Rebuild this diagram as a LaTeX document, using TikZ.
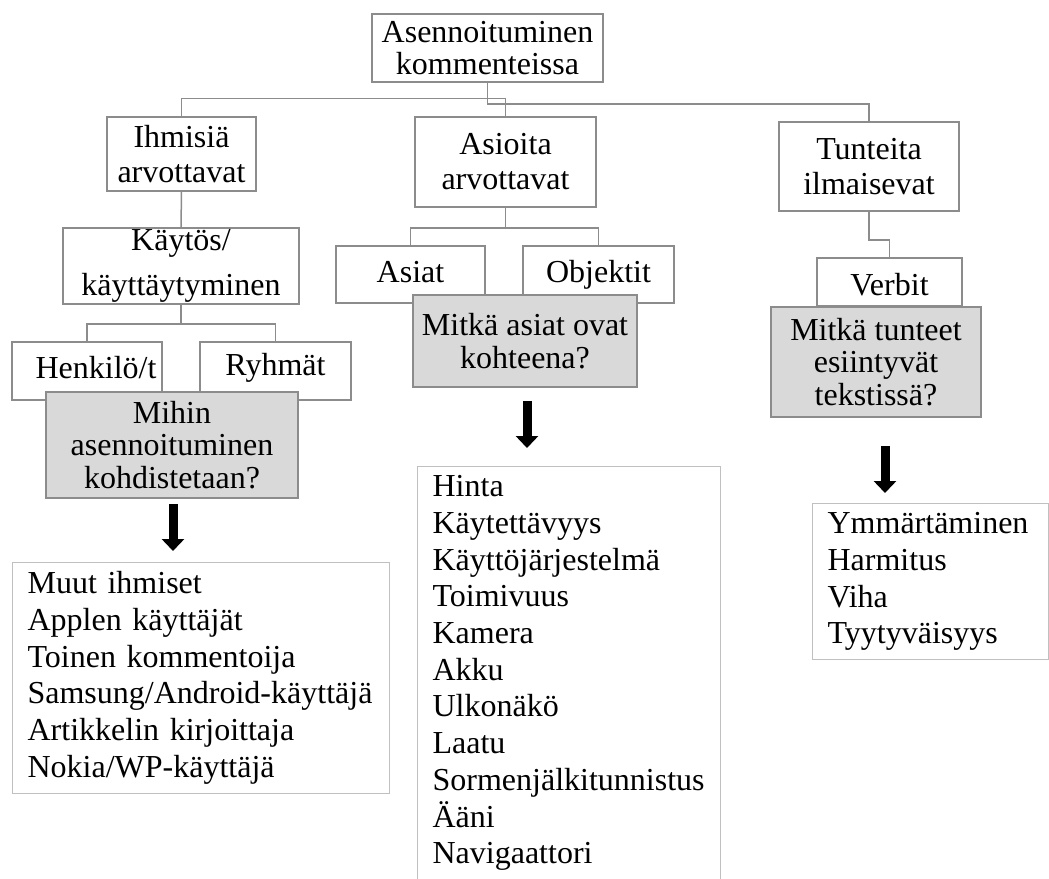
\documentclass[tikz,border=0pt]{standalone}
\usepackage{fontspec}
\setmainfont{Liberation Serif}
\usetikzlibrary{arrows.meta}
\definecolor{boxline}{HTML}{8C8C8C}
\definecolor{listline}{HTML}{C0C0C0}
\definecolor{qfill}{HTML}{D9D9D9}
\tikzset{
  tbox/.style={draw=boxline, line width=1.5pt, fill=white, rectangle,
    inner sep=0pt, align=center, font=\fontsize{32}{35}\selectfont},
  oneline/.style={text height=22pt, text depth=7pt},
  qbox/.style={tbox, fill=qfill, font=\fontsize{32}{32.5}\selectfont},
  lbox/.style={draw=listline, line width=1.2pt, rectangle, anchor=north west,
    align=left, inner xsep=15pt, inner ysep=9pt,
    font=\fontsize{32}{36.7}\selectfont},
  link/.style={draw=boxline, line width=1.5pt},
  bigarrow/.style={line width=9pt, -{Triangle[width=22pt,length=12pt]}}
}
\begin{document}
\begin{tikzpicture}[x=1pt,y=-1pt]
\clip (0,0) rectangle (1049,878);
\fill[white] (0,0) rectangle (1049,878);

% top level
\node[tbox, minimum width=231pt, minimum height=68pt,
      font=\fontsize{32}{32}\selectfont] (root) at (487.5,48)
      {Asennoituminen\\kommenteissa};

% second level
\node[tbox, minimum width=149pt, minimum height=74pt] (ihm) at (181.5,154)
      {Ihmisiä\\arvottavat};
\node[tbox, minimum width=181pt, minimum height=90pt] (asi) at (505.5,162)
      {Asioita\\arvottavat};
\node[tbox, minimum width=180pt, minimum height=89pt] (tun) at (869,166.5)
      {Tunteita\\ilmaisevat};

% third level
\node[tbox, minimum width=236pt, minimum height=76pt,
      font=\fontsize{32}{45}\selectfont] (kay) at (181,266)
      {Käytös/\\käyttäytyminen};
\node[tbox, oneline, minimum width=149pt, minimum height=57pt] (asiat) at (410.5,274.5) {Asiat};
\node[tbox, oneline, minimum width=151pt, minimum height=57pt] (obj) at (598.5,274.5) {Objektit};
\node[tbox, oneline, text height=34pt, minimum width=145pt, minimum height=48pt] (verb) at (889.5,282) {Verbit};

% fourth level
\node[tbox, oneline, minimum width=150pt, minimum height=58pt] (hen) at (87,371)
      {\hspace*{18pt}Henkilö/t};
\node[tbox, oneline, text height=16pt, minimum width=151pt, minimum height=58pt] (ryh) at (275.5,371) {Ryhmät};

% question boxes
\node[qbox, minimum width=252pt, minimum height=106pt] (qmi) at (172,445)
      {Mihin\\asennoituminen\\kohdistetaan?};
\node[qbox, font=\fontsize{32}{33}\selectfont, minimum width=224pt,
      minimum height=92pt] (qas) at (525,341)
      {Mitkä asiat ovat\\kohteena?};
\node[qbox, minimum width=210pt, minimum height=110pt] (qtu) at (876,362)
      {Mitkä tunteet\\esiintyvät\\tekstissä?};

% result lists
\node[lbox, text width=347pt, minimum height=230pt] (lp) at (12,562)
      {Muut ihmiset\\Applen käyttäjät\\Toinen kommentoija\\Samsung/Android-käyttäjä\\Artikkelin kirjoittaja\\Nokia/WP-käyttäjä};
\node[lbox, text width=273pt] (lt) at (417,466)
      {Hinta\\Käytettävyys\\Käyttöjärjestelmä\\Toimivuus\\Kamera\\Akku\\Ulkonäkö\\Laatu\\Sormenjälkitunnistus\\Ääni\\Navigaattori};
\node[lbox, text width=206pt, minimum height=153pt] (le) at (812,503)
      {Ymmärtäminen\\Harmitus\\Viha\\Tyytyväisyys};

% tree connectors
\draw[link] (ihm.north) -- ++(0,-18) -| (asi.north);
\draw[link] (root.south) -- ++(0,21) -| (tun.north);
\draw[link] (ihm.south) -- (kay.north);
\draw[link] (kay.south) -- ++(0,19) coordinate (kb);
\draw[link] (hen.north) |- (kb) -| (ryh.north);
\draw[link] (asi.south) -- ++(0,20) coordinate (ab);
\draw[link] (asiat.north) |- (ab) -| (obj.north);
\draw[link] (tun.south) -- ++(0,28) -| (verb.north);

% block arrows to the lists
\draw[bigarrow, shorten <=5pt, shorten >=11pt]
  ([xshift=1pt]qmi.south) -- ([xshift=1pt]qmi.south |- lp.north);
\draw[bigarrow, shorten <=13pt, shorten >=18pt]
  ([xshift=2pt]qas.south) -- ([xshift=2pt]qas.south |- lt.north);
\draw[bigarrow, shorten <=28pt, shorten >=10pt]
  ([xshift=9pt]qtu.south) -- ([xshift=9pt]qtu.south |- le.north);
\end{tikzpicture}
\end{document}
